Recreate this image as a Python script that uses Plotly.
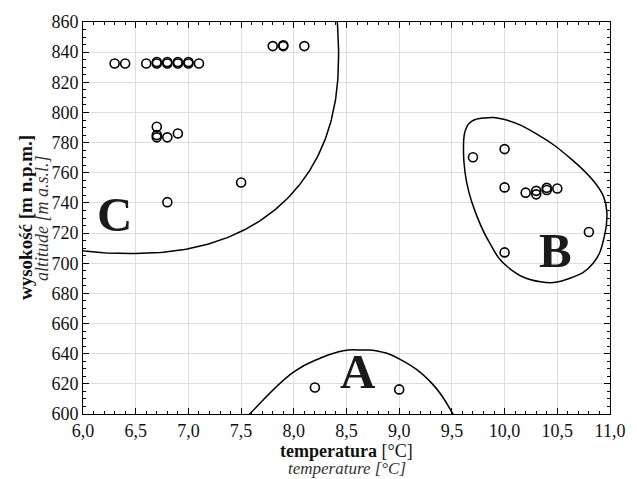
import numpy as np
import plotly.graph_objects as go

# ---- data ----
temp = [6.3, 6.4, 6.6, 6.7, 6.7, 6.8, 6.8, 6.9, 6.9, 7.0, 7.0, 7.1,
        7.8, 7.9, 7.9, 8.1,
        6.7, 6.7, 6.7, 6.8, 6.9, 7.5, 6.8,
        9.7, 10.0, 10.0, 10.2, 10.3, 10.3, 10.4, 10.4, 10.5, 10.8, 10.0,
        8.2, 9.0]
alt = [832.5, 832.5, 832.5, 832.5, 833.5, 832.5, 833.5, 832.5, 833.5, 832.5, 833.5, 832.5,
       844, 844, 844.5, 844,
       790.5, 785, 783.5, 783.5, 786, 753.5, 740.5,
       770.3, 775.7, 750.3, 746.8, 748, 745.7, 750, 748.6, 749.6, 720.7, 707.2,
       617.6, 616.3]

# group C outline: rounded (super-elliptic) contour
c_center = (6.44, 838.8)
c_radii = (1.985, 132.4)
c_exponent = 2.3

# group B and A outlines (boundary points of the drawn contours)
outline_b_x = [9.81, 10.0, 10.31, 10.63, 10.85, 10.94, 10.97, 10.95, 10.84, 10.62, 10.34,
               10.03, 9.85, 9.72, 9.66, 9.625, 9.61, 9.63, 9.69, 9.81]
outline_b_y = [796.4, 795.3, 785.5, 769.2, 754, 744, 734, 719, 700, 690, 687.7,
               697.5, 714.5, 734.4, 747.5, 760, 775, 788.5, 794.2, 796.4]

outline_a_x = [7.52, 7.58, 8.0, 8.25, 8.47, 8.66, 8.78, 9.0, 9.31, 9.51, 9.54]
outline_a_y = [596, 600, 627.9, 637, 642, 642.4, 642, 636.6, 620.3, 600, 596]

group_labels = ["C", "B", "A"]
group_label_x = [6.30, 10.48, 8.61]
group_label_y = [732.5, 708.5, 628.5]

x_range = [6.0, 11.0]
y_range = [600, 860]

SERIF = '"Liberation Serif", "Times New Roman", Times, serif'

# build the C contour from its shape parameters
t = np.linspace(np.pi * 0.9, np.pi * 2.6, 400)
ct, st = np.cos(t), np.sin(t)
p = 2.0 / c_exponent
outline_c_x = c_center[0] + c_radii[0] * np.sign(ct) * np.abs(ct) ** p
outline_c_y = c_center[1] + c_radii[1] * np.sign(st) * np.abs(st) ** p

fig = go.Figure()

fig.add_trace(go.Scatter(x=outline_c_x, y=outline_c_y, mode="lines",
                         line=dict(color="black", width=1.5),
                         hoverinfo="skip", showlegend=False))
for ox, oy in [(outline_b_x, outline_b_y), (outline_a_x, outline_a_y)]:
    fig.add_trace(go.Scatter(x=ox, y=oy, mode="lines",
                             line=dict(color="black", width=1.5, shape="spline", smoothing=1.3),
                             hoverinfo="skip", showlegend=False))

fig.add_trace(go.Scatter(x=temp, y=alt, mode="markers",
                         marker=dict(symbol="circle-open", size=9, color="black",
                                     line=dict(width=1.6, color="black")),
                         showlegend=False, cliponaxis=False))

for lab, gx, gy in zip(group_labels, group_label_x, group_label_y):
    fig.add_annotation(x=gx, y=gy, text="<b>%s</b>" % lab, showarrow=False,
                       font=dict(family=SERIF, size=49, color="#1a1a1a"),
                       xanchor="center", yanchor="middle")

# axis titles
fig.add_annotation(xref="paper", yref="paper", x=0.5, y=0, yshift=-36.5,
                   text="<b>temperatura</b> [°C]", showarrow=False,
                   font=dict(family=SERIF, size=18, color="#111"),
                   xanchor="center", yanchor="middle")
fig.add_annotation(xref="paper", yref="paper", x=0.5, y=0, yshift=-54,
                   text="<i>temperature [°C]</i>", showarrow=False,
                   font=dict(family=SERIF, size=17, color="#333"),
                   xanchor="center", yanchor="middle")
fig.add_annotation(xref="paper", yref="paper", x=0, y=0.5, xshift=-58,
                   text="<b>wysokość [m n.p.m.]</b>", showarrow=False, textangle=-90,
                   font=dict(family=SERIF, size=19, color="#111"),
                   xanchor="center", yanchor="middle")
fig.add_annotation(xref="paper", yref="paper", x=0, y=0.5, xshift=-41,
                   text="<i>altitude [m a.s.l.]</i>", showarrow=False, textangle=-90,
                   font=dict(family=SERIF, size=18, color="#333"),
                   xanchor="center", yanchor="middle")

axis_common = dict(showline=True, linecolor="black", linewidth=1, mirror="ticks",
                   ticks="inside", ticklen=6, tickcolor="black",
                   showgrid=True, gridcolor="#dedede", gridwidth=1, zeroline=False,
                   tickfont=dict(family=SERIF, size=18, color="#111"))

fig.update_xaxes(range=x_range, dtick=0.5, tick0=6, tickformat=".1f",
                 minor=dict(dtick=0.1, ticks="inside", ticklen=3, tickcolor="black", showgrid=False),
                 **axis_common)
fig.update_yaxes(range=y_range, dtick=20, tick0=600,
                 minor=dict(dtick=5, ticks="inside", ticklen=3, tickcolor="black", showgrid=False),
                 **axis_common)

fig.update_layout(width=637, height=479, separators=", ",
                  font=dict(family=SERIF, size=18, color="#111"),
                  margin=dict(l=83, r=20, t=15, b=65),
                  paper_bgcolor="white", plot_bgcolor="white",
                  showlegend=False)

fig.write_html("out.html")
